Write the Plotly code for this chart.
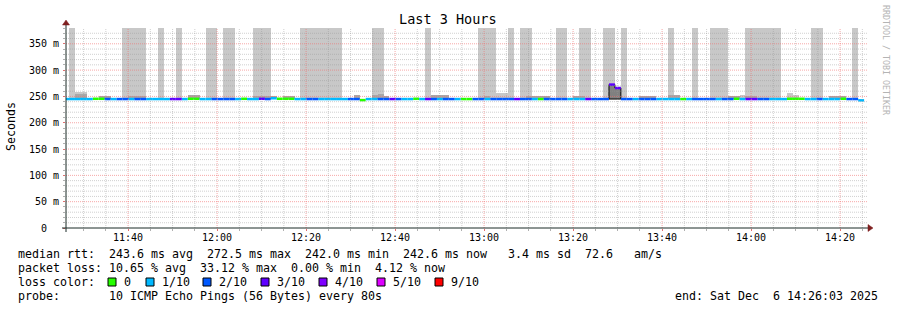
import plotly.graph_objects as go
import pandas as pd

# ---------------- data ----------------
T_START = "2025-12-06 11:26:03"
T_END = "2025-12-06 14:26:03"
FIRST_STEP = "2025-12-06 11:25:24"   # start of first (partially visible) 80 s step
STEP_SECONDS = 80

# loss level per 80 s step (0 = 0/10, 1 = 1/10, 2 = 2/10, 3 = 3/10 ...)
loss_level = [
    1, 1, 1, 1, 1, 0, 0, 2, 1, 2,
    2, 1, 2, 2, 1, 1, 1, 1, 3, 3,
    1, 0, 0, 1, 1, 2, 2, 2, 2, 1,
    0, 1, 1, 3, 2, 1, 0, 0, 0, 1,
    1, 2, 2, 1, 1, 1, 1, 1, 2, 2,
    0, 1, 1, 2, 2, 3, 2, 1, 1, 0,
    1, 3, 2, 1, 2, 2, 1, 0, 0, 2,
    2, 1, 2, 2, 2, 2, 3, 2, 2, 1,
    0, 2, 2, 2, 2, 1, 1, 1, 3, 2,
    2, 2, 3, 3, 2, 2, 1, 2, 2, 2,
    1, 1, 1, 1, 0, 1, 2, 2, 2, 2,
    1, 2, 2, 0, 1, 3, 3, 2, 2, 1,
    1, 1, 0, 0, 0, 1, 1, 2, 1, 1,
    1, 0, 2, 2, 1,
]

# median rtt per step (ms)
median_ms = [
    245.0, 245.0, 245.0, 245.0, 245.0, 245.5, 245.5, 245.0, 245.0, 245.0,
    245.0, 245.0, 245.0, 245.0, 245.0, 245.0, 245.0, 245.0, 245.0, 245.0,
    245.0, 245.5, 245.5, 245.0, 245.0, 245.0, 245.0, 245.0, 245.0, 245.0,
    245.5, 245.0, 245.0, 245.5, 245.0, 246.5, 245.5, 245.5, 245.5, 245.0,
    245.0, 245.0, 245.0, 245.0, 245.0, 245.0, 245.0, 245.0, 245.0, 245.0,
    243.0, 245.0, 245.0, 245.0, 245.0, 245.0, 245.0, 245.0, 245.0, 245.5,
    245.0, 245.0, 245.0, 245.0, 245.0, 245.0, 245.0, 245.0, 245.0, 245.0,
    245.0, 245.0, 245.0, 245.0, 245.0, 245.0, 245.0, 245.0, 245.0, 245.0,
    245.0, 245.0, 245.0, 245.0, 245.0, 245.0, 245.0, 245.0, 245.0, 245.0,
    245.0, 245.0, 272.5, 266.0, 245.0, 245.0, 245.0, 245.0, 245.0, 245.0,
    245.0, 245.0, 245.0, 245.0, 245.0, 245.0, 245.0, 245.0, 245.0, 245.0,
    245.0, 245.0, 245.0, 245.5, 245.0, 245.0, 245.0, 245.0, 245.0, 245.0,
    245.0, 245.0, 245.5, 245.5, 245.5, 245.0, 245.0, 245.0, 245.0, 245.0,
    245.0, 245.5, 245.0, 245.0, 242.6,
]

# light smoke top per step (ms, None = none); 380 = beyond the top of the graph
smoke_light = [
    None, 380, 258, 258, None, None, None, None, None, None,
    380, 380, 380, 380, None, None, 380, None, None, 380,
    None, None, None, None, 380, 380, None, 380, 380, None,
    None, None, 380, 380, 380, None, None, None, None, None,
    380, 380, 380, 380, 380, 380, 380, None, None, None,
    None, None, 380, 380, None, None, None, None, None, None,
    None, 380, None, None, None, None, None, None, None, None,
    380, 380, 380, 257, 257, 380, None, 380, 380, None,
    None, None, None, 380, 380, None, None, 380, 380, None,
    None, 380, 380, None, 380, None, None, None, None, None,
    None, None, 380, None, None, None, 380, None, None, 380,
    380, 380, None, None, 253, 380, 380, 380, 380, 380,
    380, None, 256, 253, None, None, 380, 380, None, None,
    None, None, None, 380, None,
]

# darker smoke top per step (ms, None = none)
smoke_dark = [
    None, None, 254, 254, None, None, 251, 251, None, None,
    None, 250, 250, 250, None, None, None, None, None, None,
    None, 252, 252, None, None, None, None, None, None, None,
    None, None, 251, 251, 251, 251, None, 251, 251, None,
    None, None, None, None, None, None, None, None, None, 252,
    None, None, 252, 254, 251, None, None, None, None, None,
    None, None, 252, 252, 252, None, None, None, None, None,
    None, 250, None, None, None, None, None, None, 251, 251,
    251, 251, None, None, None, None, 250, 250, None, None,
    None, None, None, None, None, None, None, 251, 251, 251,
    None, None, 252, 252, None, None, None, None, None, None,
    None, None, 251, 251, None, 251, 251, None, None, None,
    None, None, None, None, None, None, None, None, None, 250,
    250, 250, None, None, None,
]

loss_colors = ["#26ff00", "#00b8ff", "#0059ff", "#5e00ff", "#7e00ff", "#dd00ff", "#ff0000"]
loss_labels = ["0", "1/10", "2/10", "3/10", "4/10", "5/10", "9/10"]

y_tick_vals = [0, 50, 100, 150, 200, 250, 300, 350]
y_tick_text = ["0\u00a0\u00a0", "50 m", "100 m", "150 m", "200 m", "250 m", "300 m", "350 m"]
x_tick_vals = ["2025-12-06 11:40", "2025-12-06 12:00", "2025-12-06 12:20", "2025-12-06 12:40",
               "2025-12-06 13:00", "2025-12-06 13:20", "2025-12-06 13:40", "2025-12-06 14:00",
               "2025-12-06 14:20"]
x_tick_text = ["11:40", "12:00", "12:20", "12:40", "13:00", "13:20", "13:40", "14:00", "14:20"]

title_text = "Last 3 Hours"
legend_line1 = "median rtt:  243.6 ms avg  272.5 ms max  242.0 ms min  242.6 ms now   3.4 ms sd  72.6   am/s"
legend_line2 = "packet loss: 10.65 % avg  33.12 % max  0.00 % min  4.12 % now"
legend_line3 = "loss color:"
legend_line4 = "probe:       10 ICMP Echo Pings (56 Bytes) every 80s"
legend_end = "end: Sat Dec  6 14:26:03 2025"

# ---------------- geometry ----------------
W, H = 897, 310
PL, PR, PT, PB = 66, 867, 28, 228
Y_MAX = 380
MONO = "DejaVu Sans Mono"


def pxx(x):
    return (x - PL) / (PR - PL)


def pxy(y):
    return (PB - y) / (PB - PT)


n_steps = len(median_ms)
step_start = [pd.Timestamp(FIRST_STEP) + pd.Timedelta(seconds=STEP_SECONDS * i) for i in range(n_steps)]
step_end = [t + pd.Timedelta(seconds=STEP_SECONDS) for t in step_start]
STEP_MS = STEP_SECONDS * 1000

fig = go.Figure()

# light smoke
xs, bases, hs = [], [], []
for t, m, s in zip(step_start, median_ms, smoke_light):
    if s is not None:
        top = min(s, Y_MAX)
        xs.append(t); bases.append(m); hs.append(top - m)
fig.add_trace(go.Bar(x=xs, y=hs, base=bases, width=[STEP_MS] * len(xs), offset=0,
                     marker=dict(color="#c8c8c8", line=dict(width=0)), hoverinfo="skip"))

# darker smoke
xs, bases, hs = [], [], []
for t, m, s in zip(step_start, median_ms, smoke_dark):
    if s is not None:
        xs.append(t); bases.append(m); hs.append(s - m)
fig.add_trace(go.Bar(x=xs, y=hs, base=bases, width=[STEP_MS] * len(xs), offset=0,
                     marker=dict(color="#a8a8a8", line=dict(width=0)), hoverinfo="skip"))

# dark smoke block under the high-median steps
hi = [i for i, m in enumerate(median_ms) if m > 255]
base_ms = median_ms[hi[0] - 1]
px_, py_ = [step_start[hi[0]]], [base_ms]
for i in hi:
    px_ += [step_start[i], step_end[i]]
    py_ += [median_ms[i], median_ms[i]]
px_ += [step_end[hi[-1]], step_start[hi[0]]]
py_ += [base_ms, base_ms]
fig.add_trace(go.Scatter(x=px_, y=py_, mode="lines", fill="toself", fillcolor="#808080",
                         line=dict(color="#000000", width=1), hoverinfo="skip"))

# median line coloured by loss
for lvl, col in enumerate(loss_colors):
    xs, ys = [], []
    for i in range(n_steps):
        if loss_level[i] == lvl:
            xs += [step_start[i], step_end[i], None]
            ys += [median_ms[i], median_ms[i], None]
    if xs:
        fig.add_trace(go.Scatter(x=xs, y=ys, mode="lines", line=dict(color=col, width=2.5),
                                 hoverinfo="skip", connectgaps=False))

shapes = []
# grid drawn above the data (as rrdtool does)
GRID_MINOR = "rgba(150,150,150,0.45)"
GRID_MAJOR = "rgba(240,110,110,0.6)"
for v in range(10, Y_MAX, 10):
    col = GRID_MAJOR if v % 50 == 0 else GRID_MINOR
    shapes.append(dict(type="line", xref="paper", yref="y", x0=0, x1=1, y0=v, y1=v, layer="above",
                       line=dict(color=col, width=1, dash="1px,1px")))
t = pd.Timestamp("2025-12-06 11:30")
while t < pd.Timestamp(T_END):
    col = GRID_MAJOR if t.minute % 20 == 0 else GRID_MINOR
    shapes.append(dict(type="line", xref="x", yref="paper", x0=t, x1=t, y0=0, y1=1, layer="above",
                       line=dict(color=col, width=1, dash="1px,1px")))
    t += pd.Timedelta(minutes=5)

AXIS = "#1a2a26"
ARROW = "#7f1f1f"
shapes.append(dict(type="line", xref="paper", yref="paper", x0=pxx(62), x1=pxx(869), y0=0, y1=0,
                   line=dict(color=AXIS, width=1), layer="above"))
shapes.append(dict(type="line", xref="paper", yref="paper", x0=0, x1=0, y0=pxy(232), y1=pxy(24),
                   line=dict(color=AXIS, width=1), layer="above"))
shapes.append(dict(type="path", xref="paper", yref="paper",
                   path=f"M {pxx(868)},{pxy(224.5)} L {pxx(873)},{pxy(228)} L {pxx(868)},{pxy(231.5)} Z",
                   fillcolor=ARROW, line=dict(color=ARROW, width=0.5), layer="above"))
shapes.append(dict(type="path", xref="paper", yref="paper",
                   path=f"M {pxx(62.5)},{pxy(25)} L {pxx(66)},{pxy(20)} L {pxx(69.5)},{pxy(25)} Z",
                   fillcolor=ARROW, line=dict(color=ARROW, width=0.5), layer="above"))

annotations = []


def text(x, y, s, size=11.63, anchor="left", color="#000000", angle=0):
    annotations.append(dict(xref="paper", yref="paper", x=pxx(x), y=pxy(y), text=s.replace(" ", "\u00a0"),
                            showarrow=False, xanchor=anchor, yanchor="middle", textangle=angle,
                            font=dict(family=MONO, size=size, color=color)))


text(448, 19, title_text, size=13.5, anchor="center")
text(11, 127, "Seconds", size=11.63, anchor="center", angle=-90)
text(886, 60, "RRDTOOL / TOBI OETIKER", size=8.3, anchor="center", color="#b4b4b4", angle=90)
text(16, 254, legend_line1)
text(16, 268, legend_line2)
text(16, 282, legend_line3)
text(16, 296, legend_line4)
text(880, 296, legend_end, anchor="right")

box_x = [108, 146, 203, 261, 319, 377, 435]
for bx, col, lab in zip(box_x, loss_colors, loss_labels):
    shapes.append(dict(type="rect", xref="paper", yref="paper", x0=pxx(bx), x1=pxx(bx + 8),
                       y0=pxy(278), y1=pxy(286), fillcolor=col, line=dict(color="#000000", width=1)))
    text(bx + 14, 282, lab)

fig.update_layout(
    width=W, height=H,
    margin=dict(l=PL, r=W - PR, t=PT, b=H - PB, pad=0),
    paper_bgcolor="#ffffff", plot_bgcolor="#ffffff",
    showlegend=False, barmode="overlay", bargap=0,
    shapes=shapes, annotations=annotations,
    xaxis=dict(type="date", range=[T_START, T_END], showgrid=False, zeroline=False, showline=False,
               tickvals=x_tick_vals, ticktext=x_tick_text, ticks="outside", ticklen=2,
               ticklabelstandoff=-2,
               tickcolor="#e07070", tickfont=dict(family=MONO, size=10, color="#000000"),
               minor=dict(dtick=300000, tick0="2025-12-06 11:30", ticks="outside", ticklen=2,
                          tickcolor="#b0b0b0", showgrid=False)),
    yaxis=dict(range=[0, Y_MAX], showgrid=False, zeroline=False, showline=False,
               tickvals=y_tick_vals, ticktext=y_tick_text, ticks="outside", ticklen=2,
               ticklabelstandoff=2,
               tickcolor="#e07070", tickfont=dict(family=MONO, size=10, color="#000000"),
               minor=dict(dtick=10, ticks="outside", ticklen=2, tickcolor="#b0b0b0", showgrid=False)),
)

fig.write_html("out.html")
